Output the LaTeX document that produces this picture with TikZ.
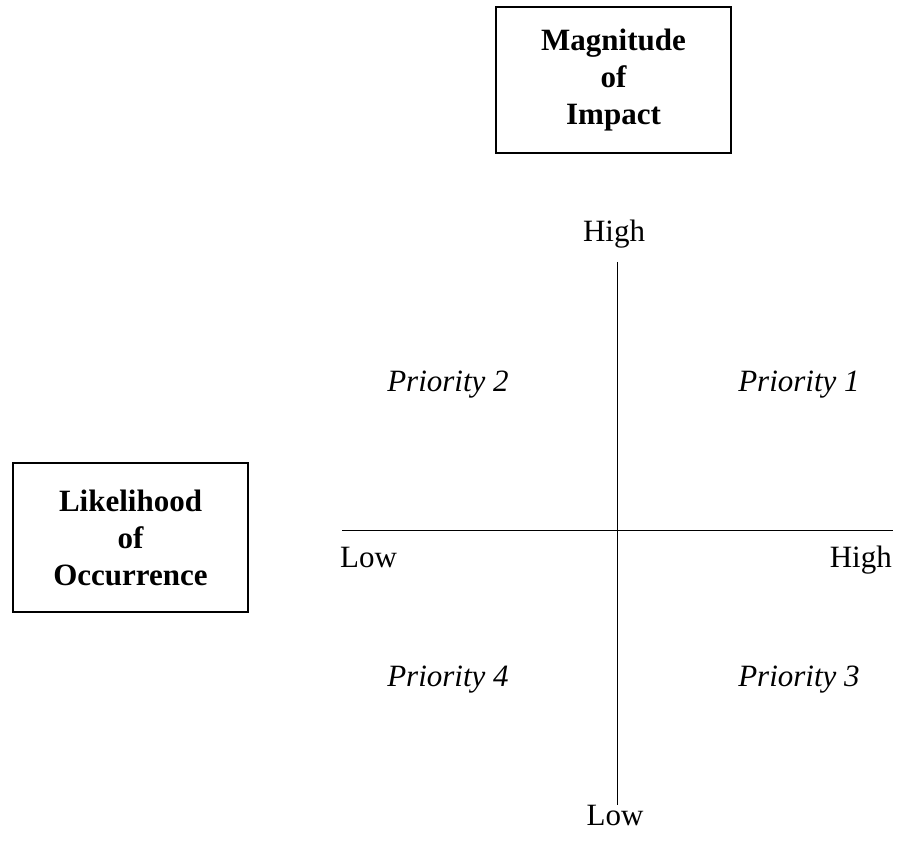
\documentclass[tikz,border=0pt]{standalone}
\usepackage{fontspec}
\setmainfont{Liberation Serif}
\usetikzlibrary{positioning}

\newcommand{\labelsize}{\fontsize{31}{37}\selectfont}

\tikzset{
    titlebox/.style={draw, line width=1.6pt, align=center, font=\labelsize\bfseries,
        minimum width=235, minimum height=146, inner sep=0pt},
    axislabel/.style={inner sep=0pt, font=\labelsize},
    quadlabel/.style={inner sep=0pt, anchor=base, font=\labelsize\itshape},
}

\begin{document}
\begin{tikzpicture}[x=1pt,y=-1pt]
    \useasboundingbox (0,0) rectangle (898,842);

    % Header boxes
    \node[titlebox] (impact) at (613.5,80) {Magnitude\\of\\Impact};
    \node[titlebox, minimum height=149] (likely) at (130.5,537.5) {Likelihood\\of\\Occurrence};

    % Axes
    \coordinate (vtop) at (617,262);
    \coordinate (vbot) at (617,805);
    \coordinate (hleft) at (342,530);
    \coordinate (hright) at (893,530);
    \draw[line width=0.8pt] (vtop) -- (vbot);
    \draw[line width=0.8pt] (hleft) -- (hright);

    % Axis ends
    \node[axislabel, anchor=base] (hightop) at (614,242) {High};
    \node[axislabel, anchor=base] (lowbot) at (615,825) {Low};
    \node[axislabel, anchor=base west] (lowleft) at (340,567) {Low};
    \node[axislabel, anchor=base east] (highright) at (892,567) {High};

    % Quadrants
    \node[quadlabel] (prio2) at (448,392) {Priority 2};
    \node[quadlabel] (prio1) at (799,392) {Priority 1};
    \node[quadlabel] (prio4) at (448,686) {Priority 4};
    \node[quadlabel] (prio3) at (799,686) {Priority 3};
\end{tikzpicture}
\end{document}
